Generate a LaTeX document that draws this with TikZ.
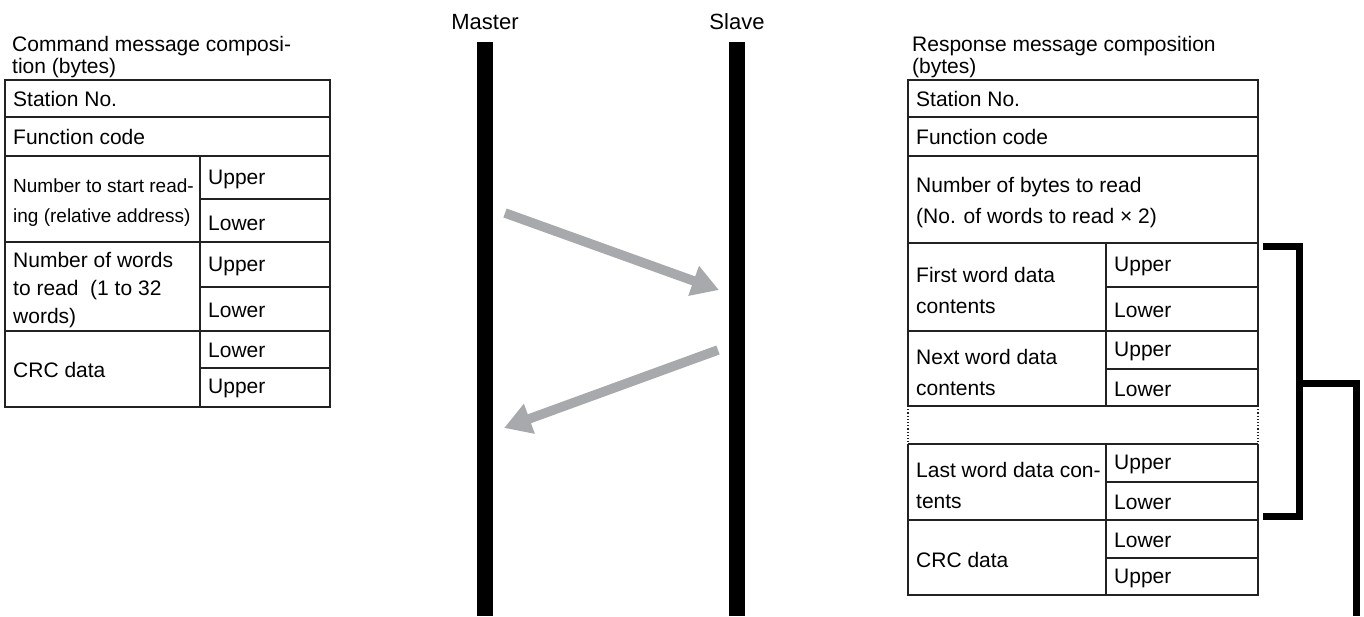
\documentclass[tikz,border=0pt]{standalone}
\usepackage{fontspec}
\setmainfont{Liberation Sans}
\usetikzlibrary{arrows.meta}
\definecolor{arrowgray}{HTML}{A7A9AC}
\definecolor{linegray}{HTML}{222222}
\begin{document}
\begin{tikzpicture}[x=1pt,y=-1pt,
  cell/.style={draw=linegray, line width=1.6pt},
  dotcell/.style={draw=linegray, line width=1.2pt, dotted},
  txt/.style={anchor=west, inner sep=0pt, align=left, font=\fontsize{21}{31}\selectfont},
  smalltxt/.style={anchor=west, inner sep=0pt, align=left, font=\fontsize{19}{30}\selectfont},
  titletxt/.style={anchor=west, inner sep=0pt, align=left, font=\fontsize{21}{22}\selectfont},
  lifeline/.style={line width=16pt, black},
  msg/.style={line width=9.5pt, arrowgray, -{Triangle[length=27pt,width=30pt]}},
  brace/.style={line width=7pt, black, miter limit=10}
]
\useasboundingbox (0,0) rectangle (1364,616);

% ---------- Master / Slave ----------
\node[font=\fontsize{22}{26}\selectfont, inner sep=0pt] (master) at (485,22) {Master};
\node[font=\fontsize{22}{26}\selectfont, inner sep=0pt] (slave) at (737,22) {Slave};
\coordinate (mtop) at (485,42);
\coordinate (mbot) at (485,616);
\coordinate (stop) at (737,42);
\coordinate (sbot) at (737,616);
\draw[lifeline] (mtop) -- (mbot);
\draw[lifeline] (stop) -- (sbot);

\coordinate (a1s) at (505,213);
\coordinate (a1e) at (719,290);
\coordinate (a2s) at (718,350);
\coordinate (a2e) at (504,428);
\draw[msg] (a1s) -- (a1e);
\draw[msg] (a2s) -- (a2e);

% ---------- Left table ----------
\node[titletxt] (ltitle) at (12,57) {Command message composi-\\tion (bytes)};
\draw[cell] (5,80) rectangle (330,407);
\draw[cell] (5,117) -- (330,117);
\draw[cell] (5,156) -- (330,156);
\draw[cell] (5,242) -- (330,242);
\draw[cell] (5,331) -- (330,331);
\draw[cell] (200,156) -- (200,407);
\draw[cell] (200,199) -- (330,199);
\draw[cell] (200,287) -- (330,287);
\draw[cell] (200,368) -- (330,368);

\node[txt] (lst) at (13,99) {Station No.};
\node[txt] (lfc) at (13,137) {Function code};
\node[smalltxt] (lns) at (13,203) {Number to start read-\\ing (relative address)};
\node[txt] (lu1) at (208,179) {Upper};
\node[txt] (ll1) at (208,223) {Lower};
\node[font=\fontsize{21}{28}\selectfont, anchor=west, inner sep=0pt, align=left] (lnw) at (13,290) {Number of words\\to read~~(1 to 32\\words)};
\node[txt] (lu2) at (208,266) {Upper};
\node[txt] (ll2) at (208,310) {Lower};
\node[txt] (lcrc) at (13,370) {CRC data};
\node[txt] (ll3) at (208,350) {Lower};
\node[txt] (lu3) at (208,388) {Upper};

% ---------- Right table ----------
\node[titletxt] (rtitle) at (912,57) {Response message composition\\(bytes)};
\draw[cell] (908,406) -- (908,80) -- (1258,80) -- (1258,406);
\draw[cell] (908,444) -- (908,595) -- (1258,595) -- (1258,444);
\draw[dotcell] (908,406) -- (908,444);
\draw[dotcell] (1258,406) -- (1258,444);
\foreach \yy in {117,156,243,331,406,444,520}
  \draw[cell] (908,\yy) -- (1258,\yy);
\draw[cell] (1106,243) -- (1106,406);
\draw[cell] (1106,444) -- (1106,595);
\foreach \yy in {287,369,482,558}
  \draw[cell] (1106,\yy) -- (1258,\yy);

\node[txt] (rst) at (916,99) {Station No.};
\node[txt] (rfc) at (916,137) {Function code};
\node[txt] (rnb) at (916,203) {Number of bytes to read\\(No. of words to read × 2)};
\node[txt] (rfw) at (916,290) {First word data\\contents};
\node[txt] (ru1) at (1114,266) {Upper};
\node[txt] (rl1) at (1114,310) {Lower};
\node[txt] (rnw) at (916,372) {Next word data\\contents};
\node[txt] (ru2) at (1114,351) {Upper};
\node[txt] (rl2) at (1114,389) {Lower};
\node[txt] (rlw) at (916,485) {Last word data con-\\tents};
\node[txt] (ru3) at (1114,464) {Upper};
\node[txt] (rl3) at (1114,502) {Lower};
\node[txt] (rcrc) at (916,560) {CRC data};
\node[txt] (rl4) at (1114,540) {Lower};
\node[txt] (ru4) at (1114,578) {Upper};

% ---------- Bracket ----------
\coordinate (bt) at (1263,246.5);
\coordinate (bb) at (1263,516.5);
\coordinate (bm) at (1299.5,383);
\coordinate (bend) at (1356.5,616);
\draw[brace] (bt) -- (1299.5,246.5) -- (1299.5,516.5) -- (bb);
\draw[brace] (bm) -- (1356.5,383) -- (bend);
\end{tikzpicture}
\end{document}
